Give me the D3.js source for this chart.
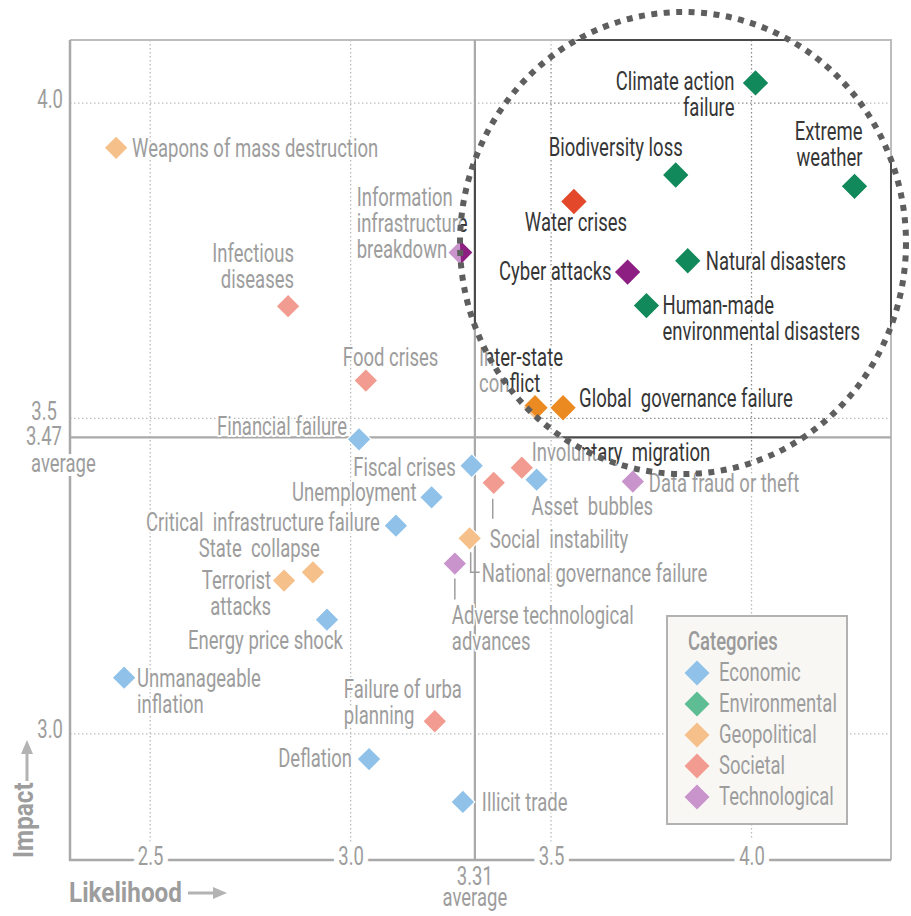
<!DOCTYPE html>
<html><head><meta charset="utf-8">
<script src="https://cdn.jsdelivr.net/npm/d3@7"></script>
<style>
html,body{margin:0;padding:0;background:#fff;}
svg{display:block;font-family:Roboto,"Liberation Sans",sans-serif;}
text{white-space:pre;}
</style></head><body>
<svg id="chart" width="911" height="916"></svg>
<script>
// ---------------- DATA ----------------
const riskNames = [
  "Weapons of mass destruction","Infectious diseases","Information infrastructure breakdown",
  "Food crises","Financial failure","Fiscal crises","Unemployment",
  "Critical infrastructure failure","State collapse","Terrorist attacks","Energy price shock",
  "Unmanageable inflation","Failure of urban planning","Deflation","Illicit trade",
  "Adverse technological advances","National governance failure","Social instability",
  "Involuntary migration","Asset bubbles","Data fraud or theft","Inter-state conflict",
  "Global governance failure","Climate action failure","Extreme weather","Biodiversity loss",
  "Water crises","Natural disasters","Cyber attacks","Human-made environmental disasters"
];
const riskLabels = [
  "Weapons of mass destruction","Infectious\ndiseases","Information\ninfrastructure\nbreakdown",
  "Food crises","Financial failure","Fiscal crises","Unemployment",
  "Critical  infrastructure failure","State  collapse","Terrorist\nattacks","Energy price shock",
  "Unmanageable\ninflation","Failure of urba\nplanning","Deflation","Illicit trade",
  "Adverse technological\nadvances","National governance failure","Social  instability",
  "Involuntary  migration","Asset  bubbles","Data fraud or theft","Inter-state\nconflict",
  "Global  governance failure","Climate action\nfailure","Extreme\nweather","Biodiversity loss",
  "Water crises","Natural disasters","Cyber attacks","Human-made\nenvironmental disasters"
];
const likelihood = [
  2.415, 2.844, 3.272, 3.038, 3.021, 3.302, 3.202, 3.113, 2.906, 2.834,
  2.941, 2.435, 3.210, 3.046, 3.280, 3.260, 3.297, 3.357, 3.427, 3.464,
  3.704, 3.460, 3.530, 4.010, 4.257, 3.811, 3.557, 3.841, 3.691, 3.738
];
const impact = [
  3.929, 3.678, 3.763, 3.560, 3.467, 3.425, 3.375, 3.330, 3.256, 3.243,
  3.181, 3.089, 3.020, 2.960, 2.892, 3.270, 3.310, 3.398, 3.422, 3.403,
  3.400, 3.517, 3.517, 4.032, 3.868, 3.886, 3.844, 3.750, 3.732, 3.679
];
const riskCategory = [
  "Geopolitical","Societal","Technological","Societal","Economic","Economic","Economic",
  "Economic","Geopolitical","Geopolitical","Economic","Economic","Societal","Economic","Economic",
  "Technological","Geopolitical","Societal","Societal","Economic","Technological","Geopolitical",
  "Geopolitical","Environmental","Environmental","Environmental","Societal","Environmental",
  "Technological","Environmental"
];
const categories = ["Economic","Environmental","Geopolitical","Societal","Technological"];
const xTickValues = [2.5, 3.0, 3.5, 4.0];
const yTickValues = [3.0, 3.5, 4.0];
const averageLikelihood = 3.31;
const averageImpact = 3.47;

// ---------------- LAYOUT / STYLE ----------------
const lightColors = {Economic:"#8fc1e9",Environmental:"#5fbd94",Geopolitical:"#f6c08b",Societal:"#f29c91",Technological:"#c993cc"};
const darkColors  = {Economic:"#3a85c8",Environmental:"#11895a",Geopolitical:"#ec8a22",Societal:"#e3482b",Technological:"#8c1f81"};

// label placement relative to marker centre (first line centre), px
const labelLayout = {
  "Weapons of mass destruction":{a:"start",dx:16,dy:0},
  "Infectious diseases":{a:"end",dx:6,dy:-53},
  "Information infrastructure breakdown":{a:"start",dx:-103,dy:-56},
  "Food crises":{a:"start",dx:-23,dy:-24},
  "Financial failure":{a:"end",dx:-12,dy:-13},
  "Fiscal crises":{a:"end",dx:-16,dy:1},
  "Unemployment":{a:"end",dx:-15,dy:-5},
  "Critical infrastructure failure":{a:"end",dx:-16,dy:-4},
  "State collapse":{a:"end",dx:7,dy:-24},
  "Terrorist attacks":{a:"end",dx:-13,dy:-1},
  "Energy price shock":{a:"end",dx:16,dy:20},
  "Unmanageable inflation":{a:"start",dx:13,dy:0},
  "Failure of urban planning":{a:"start",dx:-91,dy:-32},
  "Deflation":{a:"end",dx:-17,dy:-1},
  "Illicit trade":{a:"start",dx:19,dy:0},
  "Adverse technological advances":{a:"start",dx:-3,dy:51,leader:[[0,15],[0,36]]},
  "National governance failure":{a:"start",dx:12,dy:35,leader:[[1,14],[1,34],[10,34]]},
  "Social instability":{a:"start",dx:-4,dy:56,leader:[[-1,16],[-1,36]]},
  "Involuntary migration":{a:"start",dx:10,dy:-16},
  "Asset bubbles":{a:"start",dx:-5,dy:26},
  "Data fraud or theft":{a:"start",dx:16,dy:1},
  "Inter-state conflict":{a:"start",dx:-56,dy:-51},
  "Global governance failure":{a:"start",dx:16,dy:-10},
  "Climate action failure":{a:"end",dx:-21,dy:-2},
  "Extreme weather":{a:"end",dx:8,dy:-55},
  "Biodiversity loss":{a:"end",dx:7,dy:-28},
  "Water crises":{a:"middle",dx:2,dy:21},
  "Natural disasters":{a:"start",dx:18,dy:0},
  "Cyber attacks":{a:"end",dx:-16,dy:-1},
  "Human-made environmental disasters":{a:"start",dx:16,dy:-1}
};

const W = 911, H = 916;
const plot = {l:70, r:891, t:40, b:860};
const SX = 0.74, FS = 25, LH = 26;

const x = d3.scaleLinear().domain([2.3, 4.348]).range([plot.l, plot.r]);
const y = d3.scaleLinear().domain([2.8, 4.1]).range([plot.b, plot.t]);

const svg = d3.select("#chart");
const defs = svg.append("defs");
const lens = {cx:683, cy:243, rx:223, ry:231};
defs.append("clipPath").attr("id","lens").append("ellipse")
  .attr("cx",lens.cx).attr("cy",lens.cy).attr("rx",lens.rx).attr("ry",lens.ry);

const diamond = s => d3.symbol().type(d3.symbolSquare).size(s*s/2)();

const lightTheme = {text:"#9d9d9d", frame:"#bdbdbd", axis:"#a9a9a9", grid:"#bcbcbc", avg:"#a9a9a9",
                    colors:lightColors, size:24};
const darkTheme  = {text:"#363636", frame:"#4a4a4a", axis:"#4a4a4a", grid:"#8c8c8c", avg:"#4a4a4a",
                    colors:darkColors, size:27};

const points = riskNames.map((n,i)=>({name:n, label:riskLabels[i], lx:likelihood[i], im:impact[i], cat:riskCategory[i]}));

function drawLayer(g, th){
  // grid
  g.append("g").selectAll("line").data(xTickValues).join("line")
    .attr("x1",d=>x(d)).attr("x2",d=>x(d)).attr("y1",plot.t).attr("y2",plot.b)
    .attr("stroke",th.grid).attr("stroke-width",1.3).attr("stroke-dasharray","1.5 2.5");
  g.append("g").selectAll("line").data(yTickValues).join("line")
    .attr("x1",plot.l).attr("x2",plot.r).attr("y1",d=>y(d)).attr("y2",d=>y(d))
    .attr("stroke",th.grid).attr("stroke-width",1.3).attr("stroke-dasharray","1.5 2.5");
  // frame
  g.append("path").attr("d",`M${plot.l},${plot.t}H${plot.r}V${plot.b}`)
    .attr("fill","none").attr("stroke",th.frame).attr("stroke-width",2);
  g.append("path").attr("d",`M${plot.l},${plot.t}V${plot.b}H${plot.r}`)
    .attr("fill","none").attr("stroke",th.axis).attr("stroke-width",2.5);
  // averages
  g.append("line").attr("x1",plot.l).attr("x2",plot.r)
    .attr("y1",y(averageImpact)).attr("y2",y(averageImpact))
    .attr("stroke",th.avg).attr("stroke-width",2.2);
  g.append("line").attr("x1",x(averageLikelihood)).attr("x2",x(averageLikelihood))
    .attr("y1",plot.t).attr("y2",plot.b)
    .attr("stroke",th.avg).attr("stroke-width",2.2);

  // labels
  const lab = g.append("g").attr("font-size",FS).attr("fill",th.text)
    .attr("stroke","#fff").attr("stroke-width",4).attr("paint-order","stroke")
    .attr("stroke-linejoin","round");
  points.forEach(p=>{
    const L = labelLayout[p.name];
    const px = x(p.lx), py = y(p.im);
    p.label.split("\n").forEach((ln,j)=>{
      lab.append("text")
        .attr("transform",`translate(${px+L.dx},${py+L.dy+j*LH+9}) scale(${SX},1)`)
        .attr("text-anchor",L.a).text(ln);
    });
    if(L.leader){
      g.append("polyline")
        .attr("points",L.leader.map(q=>[px+q[0],py+q[1]].join(",")).join(" "))
        .attr("fill","none").attr("stroke",th.text).attr("stroke-width",1.5);
    }
  });

  // markers
  g.append("g").selectAll("path").data(points).join("path")
    .attr("d",diamond(th.size))
    .attr("transform",d=>`translate(${x(d.lx)},${y(d.im)}) rotate(45)`)
    .attr("fill",d=>th.colors[d.cat])
    .attr("stroke","#fff").attr("stroke-width",1.2);
}

// light base layer
const base = svg.append("g");
drawLayer(base, lightTheme);

// axes (tick labels)
const tickStyle = sel => sel.attr("font-size",FS).attr("font-family",null)
  .attr("fill",lightTheme.text);
const gx = svg.append("g").attr("transform",`translate(0,${plot.b})`)
  .call(d3.axisBottom(x).tickValues(xTickValues).tickFormat(d3.format(".1f")).tickSize(0));
gx.select(".domain").remove();
gx.call(tickStyle);
gx.selectAll("text").attr("y",5).attr("dy",null)
  .attr("transform",`scale(${SX},1)`).attr("fill",lightTheme.text)
  .attr("stroke","#fff").attr("stroke-width",14).attr("paint-order","stroke");

const gy = svg.append("g").attr("transform",`translate(${plot.l},0)`)
  .call(d3.axisLeft(y).tickValues(yTickValues).tickFormat(d3.format(".1f")).tickSize(0));
gy.select(".domain").remove();
gy.call(tickStyle);
gy.selectAll("text")
  .attr("x",d=>(d===3.5?-13:-7)/SX)
  .attr("y",d=>d===3.5?1:4).attr("dy",null)
  .attr("transform",`scale(${SX},1)`).attr("fill",lightTheme.text);

// average labels
const avgG = svg.append("g").attr("font-size",FS).attr("fill",lightTheme.text)
  .attr("stroke","#fff").attr("stroke-width",8).attr("paint-order","stroke");
avgG.append("text").attr("text-anchor","end")
  .attr("transform",`translate(62,${y(averageImpact)+8}) scale(${SX},1)`)
  .text(d3.format(".2f")(averageImpact));
avgG.append("text").attr("text-anchor","start")
  .attr("transform",`translate(31,${y(averageImpact)+35}) scale(${SX},1)`)
  .text("average");
avgG.append("text").attr("text-anchor","middle")
  .attr("transform",`translate(${x(averageLikelihood)},885) scale(${SX},1)`)
  .text(d3.format(".2f")(averageLikelihood));
avgG.append("text").attr("text-anchor","middle")
  .attr("transform",`translate(${x(averageLikelihood)},906) scale(${SX},1)`)
  .text("average");

// axis titles
const titleColor = "#9d9d9d", arrowColor = "#b3b3b3";
svg.append("text").attr("font-size",27).attr("font-weight",700).attr("fill",titleColor)
  .attr("transform",`translate(69,902) scale(0.9,1)`).text("Likelihood");
svg.append("line").attr("x1",188).attr("x2",215).attr("y1",893).attr("y2",893)
  .attr("stroke",arrowColor).attr("stroke-width",3);
svg.append("path").attr("d","M213,887L227,893L213,899Z").attr("fill",arrowColor);
svg.append("text").attr("font-size",27).attr("font-weight",700).attr("fill",titleColor)
  .attr("transform",`translate(33,858) rotate(-90) scale(0.9,1)`).text("Impact");
svg.append("line").attr("x1",27).attr("x2",27).attr("y1",781).attr("y2",752)
  .attr("stroke",arrowColor).attr("stroke-width",3);
svg.append("path").attr("d","M21,754L27,740L33,754Z").attr("fill",arrowColor);

// legend
const lg = svg.append("g");
lg.append("rect").attr("x",667).attr("y",616).attr("width",180).attr("height",208)
  .attr("fill","#f8f7f4").attr("stroke","#b2b2b2").attr("stroke-width",2);
lg.append("text").attr("font-size",FS).attr("font-weight",500).attr("fill","#9a9a9a")
  .attr("transform",`translate(688,650) scale(${SX},1)`).text("Categories");
const li = lg.selectAll("g.item").data(categories).join("g").attr("class","item")
  .attr("transform",(d,i)=>`translate(697,${673+i*31})`);
li.append("path").attr("d",diamond(25)).attr("transform","rotate(45)")
  .attr("fill",d=>lightColors[d]);
li.append("text").attr("font-size",FS).attr("fill",lightTheme.text)
  .attr("transform",`translate(22,8) scale(${SX},1)`).text(d=>d);

// magnified / highlighted lens layer
const lensG = svg.append("g").attr("clip-path","url(#lens)");
lensG.append("rect").attr("width",W).attr("height",H).attr("fill","#fff");
drawLayer(lensG, darkTheme);

// dotted lens outline
svg.append("ellipse").attr("cx",lens.cx).attr("cy",lens.cy).attr("rx",lens.rx).attr("ry",lens.ry)
  .attr("fill","none").attr("stroke","#5e5e5e").attr("stroke-width",6).attr("stroke-dasharray","6 6.5");
</script>
</body></html>
